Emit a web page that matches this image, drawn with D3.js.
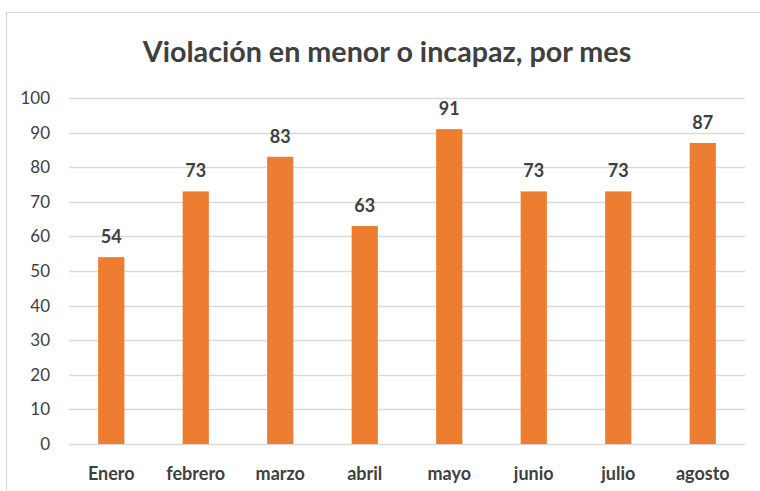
<!DOCTYPE html>
<html lang="es">
<head>
<meta charset="UTF-8">
<title>Violación en menor o incapaz, por mes</title>
<script src="https://d3js.org/d3.v7.min.js"></script>
<style>
    body {
        margin: 0;
        background: #fff;
        font-family: 'Lato', 'Open Sans', sans-serif;
    }
    svg { display: block; }
</style>
</head>
<body>
<div id="chart"></div>
<script>
    const months = ["Enero", "febrero", "marzo", "abril", "mayo", "junio", "julio", "agosto"];
    const cases = [54, 73, 83, 63, 91, 73, 73, 87];
    const yTicks = [0, 10, 20, 30, 40, 50, 60, 70, 80, 90, 100];

    const width = 760, height = 491;
    const margin = { top: 98, right: 15, bottom: 47, left: 69 };

    const svg = d3.select("#chart").append("svg")
        .attr("width", width)
        .attr("height", height);

    // chart frame (right and bottom edges fall outside the picture)
    svg.append("rect")
        .attr("x", 6.5).attr("y", 12.5)
        .attr("width", 800).attr("height", 600)
        .attr("fill", "#fff")
        .attr("stroke", "#d9d9d9")
        .attr("stroke-width", 1);

    svg.append("text")
        .attr("x", 387).attr("y", 62)
        .attr("text-anchor", "middle")
        .attr("font-size", 28.7)
        .attr("font-weight", "bold")
        .attr("fill", "#404040")
        .text("Violación en menor o incapaz, por mes");

    const x = d3.scaleBand()
        .domain(months)
        .range([margin.left, width - margin.right])
        .paddingInner(0.69)
        .paddingOuter(0.345);

    const y = d3.scaleLinear()
        .domain([0, 100])
        .range([height - margin.bottom, margin.top]);

    // gridlines
    svg.append("g")
        .selectAll("line")
        .data(yTicks)
        .join("line")
        .attr("x1", margin.left).attr("x2", width - margin.right)
        .attr("y1", d => Math.round(y(d)) + 0.5)
        .attr("y2", d => Math.round(y(d)) + 0.5)
        .attr("stroke", "#d9d9d9")
        .attr("stroke-width", 1.5);

    // y axis labels
    const yAxis = d3.axisLeft(y).tickValues(yTicks).tickSize(0).tickPadding(19);
    svg.append("g")
        .attr("transform", `translate(${margin.left},0)`)
        .call(yAxis)
        .call(g => g.select(".domain").remove())
        .call(g => g.selectAll("text")
            .attr("font-family", "Lato, 'Open Sans', sans-serif")
            .attr("font-size", 17)
            .attr("fill", "#404040"));

    // bars
    svg.append("g")
        .selectAll("rect")
        .data(cases)
        .join("rect")
        .attr("x", (d, i) => x(months[i]))
        .attr("y", d => y(d))
        .attr("width", x.bandwidth())
        .attr("height", d => y(0) - y(d))
        .attr("fill", "#ed7d31");

    // value labels
    svg.append("g")
        .selectAll("text")
        .data(cases)
        .join("text")
        .attr("x", (d, i) => x(months[i]) + x.bandwidth() / 2)
        .attr("y", d => y(d) - 14)
        .attr("text-anchor", "middle")
        .attr("font-size", 18)
        .attr("font-weight", "bold")
        .attr("fill", "#404040")
        .text(d => d);

    // x axis labels
    const xAxis = d3.axisBottom(x).tickSize(0).tickPadding(23);
    svg.append("g")
        .attr("transform", `translate(0,${y(0)})`)
        .call(xAxis)
        .call(g => g.select(".domain").remove())
        .call(g => g.selectAll("text")
            .attr("font-family", "Lato, 'Open Sans', sans-serif")
            .attr("font-size", 18)
            .attr("font-weight", "bold")
            .attr("fill", "#404040"));
</script>
</body>
</html>
